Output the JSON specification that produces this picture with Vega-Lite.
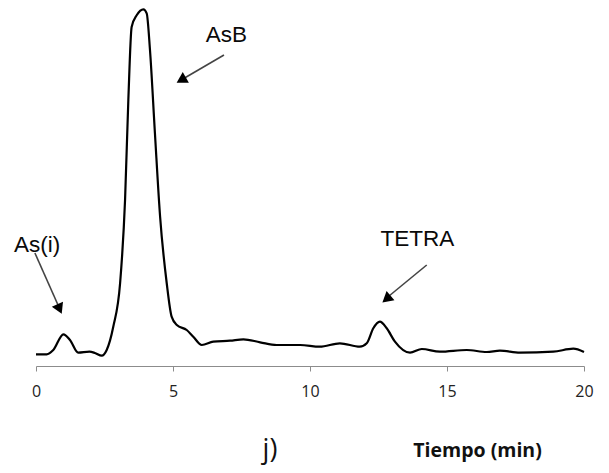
{
  "$schema": "https://vega.github.io/schema/vega-lite/v6.json",
  "width": 548,
  "height": 360,
  "autosize": {"type": "none"},
  "padding": {"left": 36, "top": 6, "right": 25, "bottom": 107},
  "background": "white",
  "config": {"view": {"stroke": null}},
  "datasets": {
    "trace": [
      {"t": 0.0, "v": 11.7}, {"t": 0.39, "v": 11.7}, {"t": 0.63, "v": 16}, {"t": 1.0, "v": 31.7},
      {"t": 1.24, "v": 26}, {"t": 1.54, "v": 13.3}, {"t": 1.95, "v": 14.3}, {"t": 2.15, "v": 13},
      {"t": 2.4, "v": 10.3}, {"t": 2.58, "v": 16}, {"t": 2.82, "v": 39.3}, {"t": 3.07, "v": 83},
      {"t": 3.25, "v": 166}, {"t": 3.37, "v": 266}, {"t": 3.49, "v": 339}, {"t": 3.68, "v": 351},
      {"t": 3.92, "v": 356.7}, {"t": 4.04, "v": 352.7}, {"t": 4.16, "v": 316}, {"t": 4.34, "v": 233},
      {"t": 4.53, "v": 149}, {"t": 4.77, "v": 83}, {"t": 4.95, "v": 49.3}, {"t": 5.14, "v": 41},
      {"t": 5.5, "v": 36}, {"t": 5.74, "v": 29.3}, {"t": 6.05, "v": 21}, {"t": 6.47, "v": 24.3},
      {"t": 7.08, "v": 25.3}, {"t": 7.57, "v": 26.7}, {"t": 8.18, "v": 23.7}, {"t": 8.78, "v": 21},
      {"t": 9.64, "v": 21}, {"t": 10.36, "v": 19.3}, {"t": 11.09, "v": 22.7}, {"t": 11.82, "v": 19.3},
      {"t": 12.07, "v": 22.7}, {"t": 12.31, "v": 37.7}, {"t": 12.55, "v": 44.3}, {"t": 12.8, "v": 37.7},
      {"t": 13.1, "v": 24.3}, {"t": 13.65, "v": 13.3}, {"t": 14.08, "v": 17}, {"t": 14.74, "v": 14.3},
      {"t": 15.72, "v": 16}, {"t": 16.45, "v": 14}, {"t": 16.93, "v": 15.3}, {"t": 17.66, "v": 13.3},
      {"t": 18.88, "v": 14.3}, {"t": 19.61, "v": 17.3}, {"t": 20.0, "v": 14}
    ],
    "labels": [
      {"label": "As(i)", "t": 0.04, "v": 121},
      {"label": "AsB", "t": 6.95, "v": 331},
      {"label": "TETRA", "t": 13.92, "v": 127}
    ],
    "arrows": [
      {"label": "As(i)", "t": -0.04, "v": 113, "t2": 0.82, "v2": 60},
      {"label": "AsB", "t": 6.86, "v": 311, "t2": 5.36, "v2": 287},
      {"label": "TETRA", "t": 14.26, "v": 101, "t2": 12.84, "v2": 69}
    ],
    "heads": [
      {"label": "As(i)", "t": 0.86, "v": 57},
      {"label": "AsB", "t": 5.3, "v": 286},
      {"label": "TETRA", "t": 12.79, "v": 67}
    ],
    "panel": [
      {"label": "j)", "t": 8.54, "v": -84}
    ]
  },
  "layer": [
    {
      "data": {"name": "trace"},
      "mark": {"type": "line", "interpolate": "monotone", "color": "#000000", "strokeWidth": 2.2},
      "encoding": {
        "x": {
          "field": "t", "type": "quantitative",
          "scale": {"domain": [0, 20], "nice": false},
          "axis": {
            "values": [0, 5, 10, 15, 20],
            "grid": false,
            "domainColor": "#8c8c8c",
            "domainWidth": 1,
            "tickColor": "#8c8c8c",
            "tickSize": 5,
            "labelFont": "Open Sans",
            "labelFontSize": 16,
            "labelColor": "#222222",
            "labelPadding": 12,
            "labelFlush": false,
            "title": "Tiempo (min)",
            "titleFont": "Open Sans",
            "titleFontWeight": "bold",
            "titleFontSize": 19.5,
            "titleColor": "#111111",
            "titleX": 441,
            "titleY": 84,
            "titleBaseline": "middle",
            "titleAnchor": "middle",
            "titleAlign": "center"
          }
        },
        "y": {
          "field": "v", "type": "quantitative",
          "scale": {"domain": [0, 360], "nice": false, "zero": false},
          "axis": null
        }
      }
    },
    {
      "data": {"name": "arrows"},
      "mark": {"type": "rule", "color": "#444444", "strokeWidth": 1.6},
      "encoding": {
        "x": {"field": "t", "type": "quantitative"},
        "y": {"field": "v", "type": "quantitative"},
        "x2": {"field": "t2"},
        "y2": {"field": "v2"}
      }
    },
    {
      "data": {"name": "heads"},
      "transform": [{"filter": "datum.label === 'As(i)'"}],
      "mark": {"type": "point", "shape": "triangle-up", "filled": true, "color": "#000000", "size": 150, "angle": 156, "opacity": 1},
      "encoding": {
        "x": {"field": "t", "type": "quantitative"},
        "y": {"field": "v", "type": "quantitative"}
      }
    },
    {
      "data": {"name": "heads"},
      "transform": [{"filter": "datum.label === 'AsB'"}],
      "mark": {"type": "point", "shape": "triangle-up", "filled": true, "color": "#000000", "size": 150, "angle": 240, "opacity": 1},
      "encoding": {
        "x": {"field": "t", "type": "quantitative"},
        "y": {"field": "v", "type": "quantitative"}
      }
    },
    {
      "data": {"name": "heads"},
      "transform": [{"filter": "datum.label === 'TETRA'"}],
      "mark": {"type": "point", "shape": "triangle-up", "filled": true, "color": "#000000", "size": 150, "angle": 230, "opacity": 1},
      "encoding": {
        "x": {"field": "t", "type": "quantitative"},
        "y": {"field": "v", "type": "quantitative"}
      }
    },
    {
      "data": {"name": "labels"},
      "mark": {"type": "text", "font": "Liberation Sans", "fontSize": 22.5, "color": "#0a0a0a", "align": "center", "baseline": "middle"},
      "encoding": {
        "x": {"field": "t", "type": "quantitative"},
        "y": {"field": "v", "type": "quantitative"},
        "text": {"field": "label"}
      }
    },
    {
      "data": {"name": "panel"},
      "mark": {"type": "text", "font": "Open Sans", "fontSize": 27, "color": "#111111", "align": "center", "baseline": "middle"},
      "encoding": {
        "x": {"field": "t", "type": "quantitative"},
        "y": {"field": "v", "type": "quantitative"},
        "text": {"field": "label"}
      }
    }
  ]
}
